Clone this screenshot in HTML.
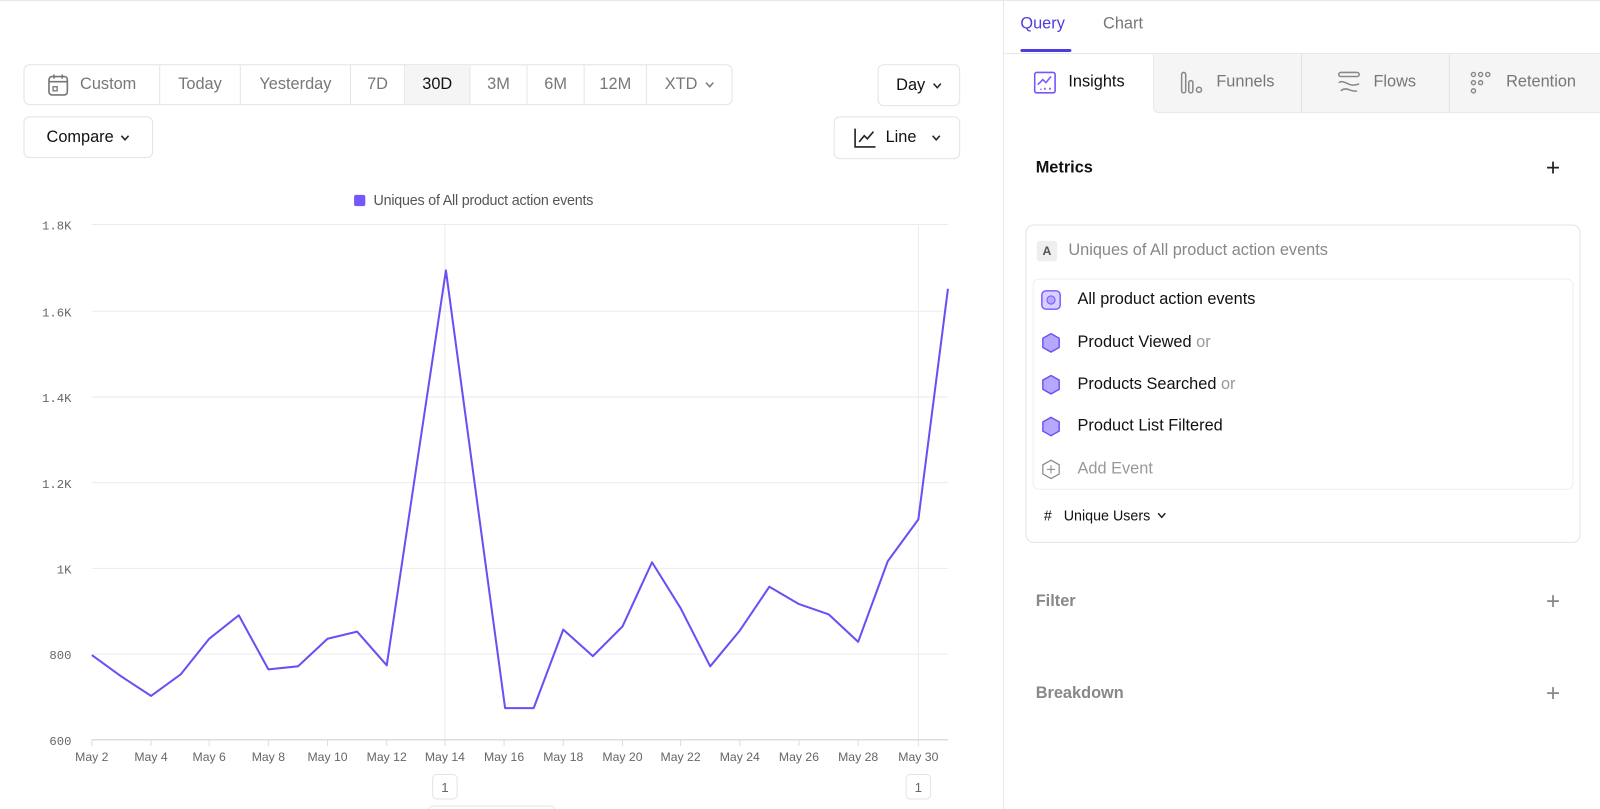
<!DOCTYPE html>
<html><head><meta charset="utf-8"><style>
html,body{margin:0;padding:0;background:#fff;overflow:hidden;width:1600px;height:809px}
#w{position:absolute;left:0;top:0;width:1568px;height:793px;transform:scale(1.0204);transform-origin:0 0;font-family:"Liberation Sans",sans-serif;color:#222}
.a{position:absolute}
.btn{position:absolute;border:1px solid #e3e3e3;border-radius:6px;background:#fff;box-sizing:border-box;font-size:16px;display:flex;align-items:center}
.seg{height:100%;display:flex;align-items:center;justify-content:center;border-right:1px solid #e6e6e6;color:#777;box-sizing:border-box}
.ev{position:absolute;left:1020px;font-size:16px;color:#111;display:flex;align-items:center}
.hex{width:20px;height:20px;margin-right:16px}
.ch{margin-left:7px}
</style></head><body><div id="w">
<div class="a" style="left:0;top:0;width:1568px;height:1px;background:#e8e8e8"></div>
<div class="btn" style="left:23px;top:63px;width:695px;height:40px">
 <div class="seg" style="width:133px;gap:10px"><svg width="22" height="24" viewBox="0 0 22 24"><rect x="2" y="4" width="18" height="18" rx="3" fill="none" stroke="#777" stroke-width="1.6"/><line x1="2" y1="9" x2="20" y2="9" stroke="#777" stroke-width="1.6"/><line x1="7" y1="2" x2="7" y2="6" stroke="#777" stroke-width="1.6"/><line x1="15" y1="2" x2="15" y2="6" stroke="#777" stroke-width="1.6"/><rect x="6" y="14" width="4" height="4" fill="none" stroke="#777" stroke-width="1.3"/></svg>Custom</div>
 <div class="seg" style="width:79px">Today</div>
 <div class="seg" style="width:108px">Yesterday</div>
 <div class="seg" style="width:53px">7D</div>
 <div class="seg" style="width:64px;background:#f5f5f5;color:#111">30D</div>
 <div class="seg" style="width:56px">3M</div>
 <div class="seg" style="width:56px">6M</div>
 <div class="seg" style="width:61px">12M</div>
 <div class="seg" style="width:83px;border-right:none">XTD<svg class="ch" width="9" height="6"><polyline points="1,1 4.5,5 8,1" fill="none" stroke="#777" stroke-width="1.4"/></svg></div>
</div>
<div class="btn" style="left:860px;top:63px;width:81px;height:41px;justify-content:center;color:#111">Day<svg class="ch" width="9" height="6"><polyline points="1,1 4.5,5 8,1" fill="none" stroke="#222" stroke-width="1.5"/></svg></div>
<div class="btn" style="left:23px;top:114px;width:127px;height:41px;justify-content:center;color:#111">Compare<svg class="ch" width="9" height="6"><polyline points="1,1 4.5,5 8,1" fill="none" stroke="#222" stroke-width="1.5"/></svg></div>
<div class="btn" style="left:817px;top:114px;width:124px;height:42px;justify-content:center;color:#111;gap:8px"><svg width="24" height="22"><polyline points="2,2 2,20 22,20" fill="none" stroke="#222" stroke-width="1.6"/><polyline points="6,15 11,9 14,12 20,5" fill="none" stroke="#222" stroke-width="1.6"/></svg>Line<svg class="ch" width="9" height="6"><polyline points="1,1 4.5,5 8,1" fill="none" stroke="#222" stroke-width="1.5"/></svg></div>
<div class="a" style="left:347px;top:191px;width:11px;height:11px;background:#7856ff;border-radius:2px"></div>
<div class="a" style="left:366px;top:188px;font-size:14px;color:#555;letter-spacing:-0.2px">Uniques of All product action events</div>
<svg class="a" style="left:0;top:0" width="960" height="793">
<g stroke="#ebebeb" stroke-width="1">
<line x1="90" y1="220" x2="929" y2="220"/><line x1="90" y1="305" x2="929" y2="305"/><line x1="90" y1="389" x2="929" y2="389"/><line x1="90" y1="473" x2="929" y2="473"/><line x1="90" y1="557" x2="929" y2="557"/><line x1="90" y1="641" x2="929" y2="641"/>
<line x1="436" y1="220" x2="436" y2="725"/><line x1="900" y1="220" x2="900" y2="725"/>
</g>
<line x1="90" y1="725" x2="929" y2="725" stroke="#ddd" stroke-width="1.5"/>
<g stroke="#ddd"><line x1="90" y1="725" x2="90" y2="731"/><line x1="148" y1="725" x2="148" y2="731"/><line x1="205" y1="725" x2="205" y2="731"/><line x1="263" y1="725" x2="263" y2="731"/><line x1="321" y1="725" x2="321" y2="731"/><line x1="379" y1="725" x2="379" y2="731"/><line x1="436" y1="725" x2="436" y2="731"/><line x1="494" y1="725" x2="494" y2="731"/><line x1="552" y1="725" x2="552" y2="731"/><line x1="610" y1="725" x2="610" y2="731"/><line x1="667" y1="725" x2="667" y2="731"/><line x1="725" y1="725" x2="725" y2="731"/><line x1="783" y1="725" x2="783" y2="731"/><line x1="841" y1="725" x2="841" y2="731"/><line x1="900" y1="725" x2="900" y2="731"/></g>
<g font-family="Liberation Mono, monospace" font-size="12" fill="#666" text-anchor="end">
<text x="70" y="225">1.8K</text><text x="70" y="310">1.6K</text><text x="70" y="394">1.4K</text><text x="70" y="478">1.2K</text><text x="70" y="562">1K</text><text x="70" y="646">800</text><text x="70" y="730">600</text>
</g>
<g font-family="Liberation Sans, sans-serif" font-size="12" fill="#666" text-anchor="middle">
<text x="90" y="746">May 2</text><text x="148" y="746">May 4</text><text x="205" y="746">May 6</text><text x="263" y="746">May 8</text><text x="321" y="746">May 10</text><text x="379" y="746">May 12</text><text x="436" y="746">May 14</text><text x="494" y="746">May 16</text><text x="552" y="746">May 18</text><text x="610" y="746">May 20</text><text x="667" y="746">May 22</text><text x="725" y="746">May 24</text><text x="783" y="746">May 26</text><text x="841" y="746">May 28</text><text x="900" y="746">May 30</text>
</g>
<polyline fill="none" stroke="#6a4ff5" stroke-width="2" stroke-linejoin="round" points="90,642 119,663 148,682 177,661 205,626 234,603 263,656 292,653 321,626 350,619 379,652 408,458 437,265 466,480 495,694 523,694 552,617 581,643 610,614 639,551 667,596 696,653 725,618 754,575 783,592 812,602 841,629 870,550 900,509 929,283"/>
<rect x="424" y="759" width="24" height="24" rx="4" fill="#fff" stroke="#e3e3e3"/><text x="436" y="776" text-anchor="middle" font-size="13" fill="#666" font-family="Liberation Sans">1</text>
<rect x="888" y="759" width="24" height="24" rx="4" fill="#fff" stroke="#e3e3e3"/><text x="900" y="776" text-anchor="middle" font-size="13" fill="#666" font-family="Liberation Sans">1</text>
<rect x="420" y="790" width="124" height="10" rx="4" fill="#fff" stroke="#e3e3e3"/>
</svg>
<div class="a" style="left:983px;top:0;width:1px;height:793px;background:#e6e6e6"></div>
<div class="a" style="left:1000px;top:15px;font-size:16px;color:#4f3ce0">Query</div>
<div class="a" style="left:1000px;top:48px;width:50px;height:3px;background:#4f3ce0;border-radius:2px"></div>
<div class="a" style="left:1081px;top:15px;font-size:16px;color:#777">Chart</div>
<div class="a" style="left:984px;top:52px;width:584px;height:1px;background:#e6e6e6"></div>
<div class="a" style="left:1130px;top:53px;width:438px;height:57px;background:#f5f5f5;border-bottom:1px solid #e6e6e6;border-left:1px solid #e6e6e6;border-bottom-left-radius:6px"></div>
<div class="a" style="left:1275px;top:53px;width:1px;height:57px;background:#e3e3e3"></div>
<div class="a" style="left:1420px;top:53px;width:1px;height:57px;background:#e3e3e3"></div>
<div class="a" style="left:1013px;top:69px;display:flex;align-items:center;gap:12px;font-size:16px;color:#111"><svg width="22" height="24"><rect x="1" y="2" width="20" height="20" rx="2" fill="none" stroke="#7856ff" stroke-width="1.6"/><polyline points="4,14 9,9 12,12 17,6" fill="none" stroke="#7856ff" stroke-width="1.5"/><line x1="7" y1="18" x2="7" y2="19" stroke="#7856ff" stroke-width="1.6"/><line x1="11" y1="17" x2="11" y2="19" stroke="#7856ff" stroke-width="1.6"/><line x1="16" y1="17" x2="16" y2="19" stroke="#7856ff" stroke-width="1.6"/></svg>Insights</div>
<div class="a" style="left:1156px;top:69px;display:flex;align-items:center;gap:12px;font-size:16px;color:#777"><svg width="24" height="24"><rect x="2" y="2" width="4" height="20" rx="2" fill="none" stroke="#888" stroke-width="1.5"/><rect x="9" y="10" width="4" height="12" rx="2" fill="none" stroke="#888" stroke-width="1.5"/><circle cx="19" cy="19" r="2.5" fill="none" stroke="#888" stroke-width="1.5"/></svg>Funnels</div>
<div class="a" style="left:1310px;top:69px;display:flex;align-items:center;gap:12px;font-size:16px;color:#777"><svg width="24" height="24"><rect x="2" y="2" width="20" height="4" rx="2" fill="none" stroke="#888" stroke-width="1.5"/><path d="M2 12 C8 8 12 18 22 13 M4 20 C10 15 14 22 20 20" fill="none" stroke="#888" stroke-width="1.5"/></svg>Flows</div>
<div class="a" style="left:1440px;top:69px;display:flex;align-items:center;gap:12px;font-size:16px;color:#777"><svg width="24" height="24" fill="none" stroke="#888" stroke-width="1.4"><circle cx="4" cy="4" r="2"/><circle cx="11" cy="4" r="2"/><circle cx="18" cy="4" r="2"/><circle cx="4" cy="12" r="2"/><circle cx="11" cy="12" r="2"/><circle cx="4" cy="20" r="2"/></svg>Retention</div>
<div class="a" style="left:1015px;top:156px;font-size:16px;font-weight:bold;color:#111">Metrics</div>
<div class="a" style="left:1515px;top:151px;font-size:24px;color:#222">+</div>
<div class="a" style="left:1005px;top:220px;width:544px;height:312px;border:1px solid #e3e3e3;border-radius:8px;box-sizing:border-box"></div>
<div class="a" style="left:1016px;top:236px;width:20px;height:20px;background:#eee;border-radius:3px;font-size:12px;font-weight:bold;color:#555;text-align:center;line-height:20px">A</div>
<div class="a" style="left:1047px;top:237px;font-size:16px;color:#888">Uniques of All product action events</div>
<div class="a" style="left:1012px;top:273px;width:530px;height:207px;border:1px solid #eee;border-radius:6px;box-sizing:border-box"></div>
<div class="ev" style="top:284px"><svg class="hex" viewBox="0 0 20 20"><rect x="1" y="1" width="18" height="18" rx="4" fill="#d8d0ff" stroke="#7856ff" stroke-width="1.4"/><circle cx="10" cy="10" r="4" fill="#b7a8ff" stroke="#7856ff"/></svg>All product action events</div>
<div class="ev" style="top:326px"><svg class="hex" viewBox="0 0 20 20"><polygon points="10,1 18,5.5 18,14.5 10,19 2,14.5 2,5.5" fill="#b7a8ff" stroke="#6a4ff5" stroke-width="1.4"/></svg>Product Viewed&nbsp;<span style="color:#999">or</span></div>
<div class="ev" style="top:367px"><svg class="hex" viewBox="0 0 20 20"><polygon points="10,1 18,5.5 18,14.5 10,19 2,14.5 2,5.5" fill="#b7a8ff" stroke="#6a4ff5" stroke-width="1.4"/></svg>Products Searched&nbsp;<span style="color:#999">or</span></div>
<div class="ev" style="top:408px"><svg class="hex" viewBox="0 0 20 20"><polygon points="10,1 18,5.5 18,14.5 10,19 2,14.5 2,5.5" fill="#b7a8ff" stroke="#6a4ff5" stroke-width="1.4"/></svg>Product List Filtered</div>
<div class="ev" style="top:450px;color:#999"><svg class="hex" viewBox="0 0 20 20"><polygon points="10,1 18,5.5 18,14.5 10,19 2,14.5 2,5.5" fill="none" stroke="#888" stroke-width="1.2"/><line x1="10" y1="6" x2="10" y2="14" stroke="#888"/><line x1="6" y1="10" x2="14" y2="10" stroke="#888"/></svg>Add Event</div>
<div class="a" style="left:1023px;top:497px;font-size:14px;color:#111;display:flex;align-items:center">#&nbsp;&nbsp;&nbsp;Unique Users<svg class="ch" width="9" height="6"><polyline points="1,1 4.5,5 8,1" fill="none" stroke="#222" stroke-width="1.5"/></svg></div>
<div class="a" style="left:1015px;top:581px;font-size:16px;font-weight:bold;color:#888">Filter</div>
<div class="a" style="left:1515px;top:576px;font-size:24px;color:#888">+</div>
<div class="a" style="left:1015px;top:671px;font-size:16px;font-weight:bold;color:#888">Breakdown</div>
<div class="a" style="left:1515px;top:666px;font-size:24px;color:#888">+</div>
</div></body></html>
